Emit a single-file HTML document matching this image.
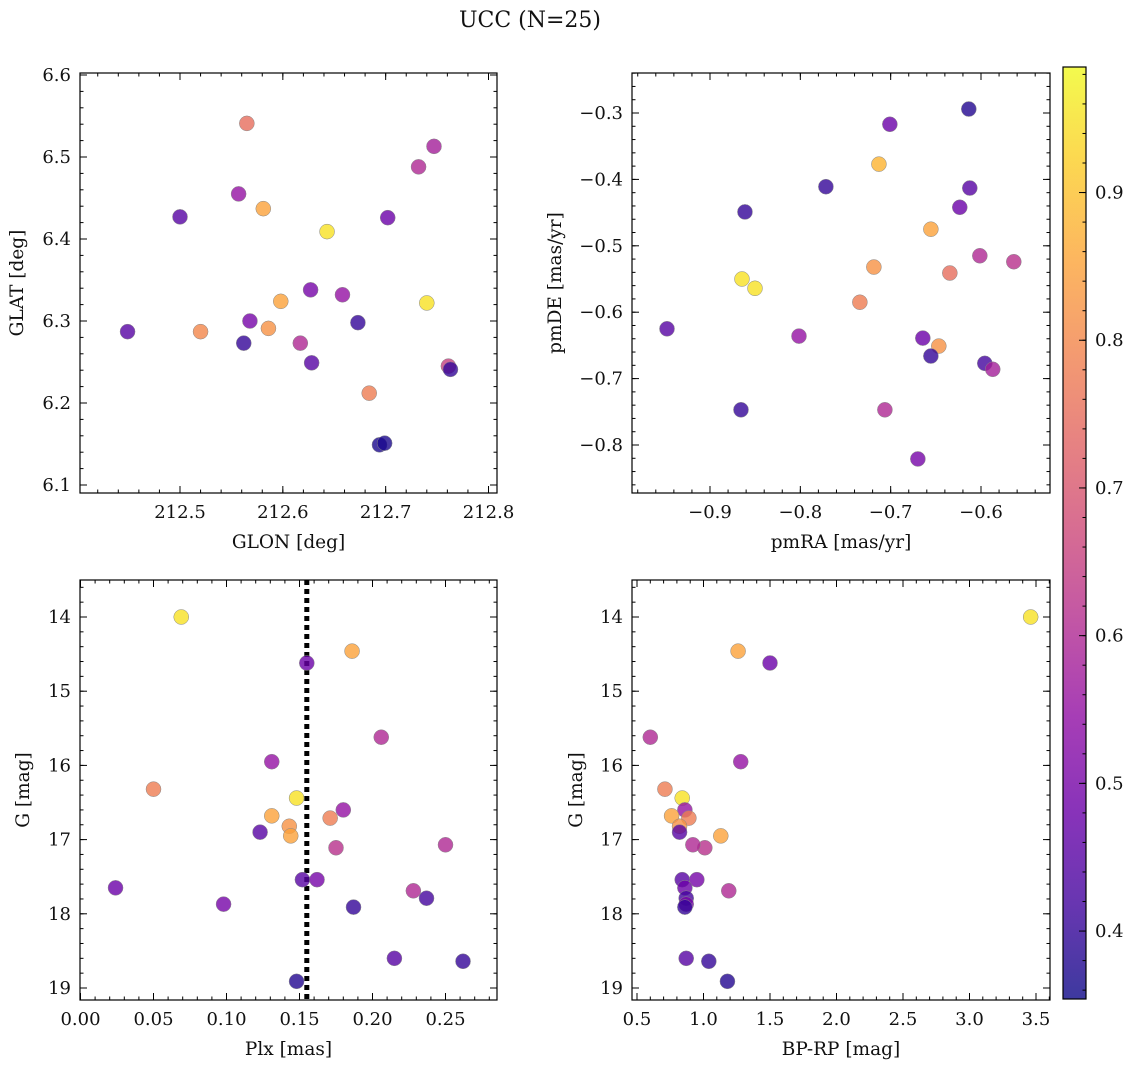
<!DOCTYPE html>
<html><head><meta charset="utf-8"><style>
body{margin:0;background:#fff}
svg text{font-family:"DejaVu Serif","Liberation Serif",serif;fill:#111}
</style></head><body>
<svg id="fig" width="1136" height="1067" xmlns="http://www.w3.org/2000/svg">
<defs><linearGradient id="cbg" x1="0" y1="1" x2="0" y2="0"></linearGradient></defs>
<text x="530" y="27" text-anchor="middle" font-size="22">UCC (N=25)</text>
</svg>
<script>
// Panel 1: GLON vs GLAT
const glon=[212.449,212.5,212.52,212.565,212.557,212.581,212.643,212.702,212.732,212.747,212.562,212.568,212.598,212.586,212.627,212.658,212.617,212.628,212.673,212.74,212.684,212.761,212.763,212.694,212.699];
const glat=[6.287,6.427,6.287,6.541,6.455,6.437,6.409,6.426,6.488,6.513,6.273,6.3,6.324,6.291,6.338,6.332,6.273,6.249,6.298,6.322,6.212,6.245,6.241,6.149,6.151];
const prob1=[0.45,0.45,0.8,0.75,0.55,0.85,0.95,0.48,0.6,0.58,0.4,0.5,0.85,0.82,0.5,0.55,0.6,0.45,0.4,0.95,0.78,0.65,0.4,0.37,0.37];
// Panel 2: pmRA vs pmDE
const pmra=[-0.6135,-0.7009,-0.713,-0.7717,-0.6124,-0.8613,-0.6235,-0.6555,-0.6013,-0.5637,-0.7186,-0.6345,-0.8646,-0.8502,-0.7341,-0.9476,-0.8015,-0.6644,-0.6467,-0.6555,-0.5958,-0.587,-0.8657,-0.7064,-0.6699];
const pmde=[-0.294,-0.317,-0.377,-0.411,-0.413,-0.449,-0.442,-0.475,-0.515,-0.524,-0.532,-0.541,-0.55,-0.564,-0.585,-0.625,-0.636,-0.639,-0.651,-0.666,-0.677,-0.686,-0.747,-0.747,-0.821];
const prob2=[0.38,0.48,0.88,0.4,0.45,0.4,0.48,0.85,0.6,0.62,0.82,0.75,0.95,0.95,0.78,0.45,0.55,0.48,0.82,0.4,0.42,0.58,0.4,0.6,0.5];
// Panel 3 & 4: Plx, BP-RP vs G
const gmag=[14.0,14.46,14.62,15.62,15.95,16.32,16.44,16.6,16.68,16.71,16.82,16.95,16.9,17.11,17.07,17.54,17.54,17.65,17.69,17.79,17.87,17.91,18.6,18.64,18.91];
const plx=[0.069,0.186,0.155,0.206,0.131,0.05,0.148,0.18,0.131,0.171,0.143,0.144,0.123,0.175,0.25,0.152,0.162,0.024,0.228,0.237,0.098,0.187,0.215,0.262,0.148];
const bprp=[3.46,1.26,1.5,0.6,1.28,0.71,0.84,0.86,0.76,0.89,0.82,1.13,0.82,1.01,0.92,0.84,0.95,0.86,1.19,0.87,0.87,0.86,0.87,1.04,1.18];
const prob34=[0.95,0.85,0.48,0.6,0.55,0.78,0.95,0.55,0.85,0.78,0.82,0.85,0.45,0.62,0.6,0.45,0.5,0.48,0.6,0.42,0.5,0.4,0.45,0.4,0.38];
const plxMedian=0.155;

const NS="http://www.w3.org/2000/svg";
const svg=document.getElementById('fig');
function el(t,a,p){const e=document.createElementNS(NS,t);for(const k in a)e.setAttribute(k,a[k]);(p||svg).appendChild(e);return e;}
const stops=[[0,'#0d0887'],[0.1,'#41049d'],[0.2,'#6a00a8'],[0.3,'#8f0da4'],[0.4,'#b12a90'],[0.5,'#cc4778'],[0.6,'#e16462'],[0.7,'#f2844b'],[0.8,'#fca636'],[0.9,'#fcce25'],[1,'#f0f921']];
function hx(h){return [1,3,5].map(i=>parseInt(h.substr(i,2),16));}
function plasma(t){t=Math.max(0,Math.min(1,t));for(let i=1;i<stops.length;i++){if(t<=stops[i][0]){const a=stops[i-1],b=stops[i];const f=(t-a[0])/(b[0]-a[0]);const c1=hx(a[1]),c2=hx(b[1]);return 'rgb('+c1.map((v,j)=>Math.round(v+(c2[j]-v)*f)).join(',')+')';}}return stops[10][1];}
const cmin=0.354,cmax=0.985;
function col(v){return plasma((v-cmin)/(cmax-cmin));}

function panel(cfg){
  const g=el('g',{});
  
  
  const X=v=>cfg.x0+(v-cfg.xa)*(cfg.x1-cfg.x0)/(cfg.xb-cfg.xa);
  const Y=v=>cfg.y0+(v-cfg.ya)*(cfg.y1-cfg.y0)/(cfg.yb-cfg.ya);
  const L=cfg.L,R=cfg.R,T=cfg.T,B=cfg.B;
  if(cfg.vline!==undefined){const ln=el('line',{x1:X(cfg.vline),x2:X(cfg.vline),y1:T,y2:B,stroke:'#000','stroke-width':5,'stroke-dasharray':'5,4'},g);}
  for(let i=0;i<cfg.xs.length;i++){
    const c=el('circle',{cx:X(cfg.xs[i]),cy:Y(cfg.ys[i]),r:7.5,fill:col(cfg.cs[i]),'fill-opacity':0.8,stroke:'#888','stroke-width':0.5},g);
    
    
  }
  const ax=el('rect',{x:L,y:T,width:R-L,height:B-T,fill:'none',stroke:'#000','stroke-width':1.2},g);
  
  function tick(x1,y1,x2,y2){el('line',{x1,y1,x2,y2,stroke:'#000','stroke-width':1},g);}
  const eps=1e-9;
  for(let v=Math.ceil(cfg.xmin/cfg.xm-eps)*cfg.xm;v<=cfg.xmax+eps;v+=cfg.xm){const p=X(v);if(p<L-0.5||p>R+0.5)continue;tick(p,B,p,B-3.5);tick(p,T,p,T+3.5);}
  for(let v=Math.ceil(cfg.ymin/cfg.ym-eps)*cfg.ym;v<=cfg.ymax+eps;v+=cfg.ym){const p=Y(v);if(p<T-0.5||p>B+0.5)continue;tick(L,p,L+3.5,p);tick(R,p,R-3.5,p);}
  cfg.xt.forEach(v=>{const p=X(v);tick(p,B,p,B-7);tick(p,T,p,T+7);const t=el('text',{x:p,y:B+25,'text-anchor':'middle','font-size':18},g);t.textContent=cfg.xf(v);});
  cfg.yt.forEach(v=>{const p=Y(v);tick(L,p,L+7,p);tick(R,p,R-7,p);const t=el('text',{x:L-9,y:p+6,'text-anchor':'end','font-size':18},g);t.textContent=cfg.yf(v);});
  const xl=el('text',{x:(L+R)/2,y:B+55,'text-anchor':'middle','font-size':18.5},g);xl.textContent=cfg.xlabel;
  const yl=el('text',{x:0,y:0,'text-anchor':'middle','font-size':18.5,transform:`translate(${cfg.ylx},${(T+B)/2}) rotate(-90)`},g);yl.textContent=cfg.ylabel;
}
const mn=(a,b)=>'\u2212'+Math.abs(a).toFixed(b);
panel({name:'glon-glat-panel',L:80,R:497,T:73,B:493,x0:180,x1:488.5,xa:212.5,xb:212.8,y0:75,y1:485,ya:6.6,yb:6.1,
 xmin:212.38,xmax:212.82,ymin:6.08,ymax:6.62,xm:0.02,ym:0.02,xt:[212.5,212.6,212.7,212.8],yt:[6.1,6.2,6.3,6.4,6.5,6.6],
 xf:v=>v.toFixed(1),yf:v=>v.toFixed(1),xs:glon,ys:glat,cs:prob1,xlabel:'GLON [deg]',ylabel:'GLAT [deg]',ylx:23});
panel({name:'pm-panel',L:632,R:1050,T:73,B:493,x0:710,x1:981,xa:-0.9,xb:-0.6,y0:113,y1:445,ya:-0.3,yb:-0.8,
 xmin:-1,xmax:-0.5,ymin:-0.9,ymax:-0.2,xm:0.02,ym:0.02,xt:[-0.9,-0.8,-0.7,-0.6],yt:[-0.3,-0.4,-0.5,-0.6,-0.7,-0.8],
 xf:v=>mn(v,1),yf:v=>mn(v,1),xs:pmra,ys:pmde,cs:prob2,xlabel:'pmRA [mas/yr]',ylabel:'pmDE [mas/yr]',ylx:561});
panel({name:'plx-g-panel',L:80,R:497,T:580,B:1000,x0:80.5,x1:445.5,xa:0,xb:0.25,y0:617,y1:988,ya:14,yb:19,
 xmin:0,xmax:0.3,ymin:13.4,ymax:19.2,xm:0.01,ym:0.2,xt:[0,0.05,0.1,0.15,0.2,0.25],yt:[14,15,16,17,18,19],
 xf:v=>v.toFixed(2),yf:v=>String(v),xs:plx,ys:gmag,cs:prob34,xlabel:'Plx [mas]',ylabel:'G [mag]',ylx:29,vline:plxMedian});
panel({name:'cmd-panel',L:632,R:1050,T:580,B:1000,x0:637,x1:1036,xa:0.5,xb:3.5,y0:617,y1:988,ya:14,yb:19,
 xmin:0.4,xmax:3.7,ymin:13.4,ymax:19.2,xm:0.1,ym:0.2,xt:[0.5,1,1.5,2,2.5,3,3.5],yt:[14,15,16,17,18,19],
 xf:v=>v.toFixed(1),yf:v=>String(v),xs:bprp,ys:gmag,cs:prob34,xlabel:'BP-RP [mag]',ylabel:'G [mag]',ylx:582});
// colorbar
const grad=document.getElementById('cbg');
for(let i=0;i<=20;i++){el('stop',{offset:(i/20),'stop-color':plasma(i/20)},grad);}
const cb=el('g',{});
const cy0=999,cy1=67;const CY=v=>cy0-(v-cmin)/(cmax-cmin)*(cy0-cy1);
el('rect',{x:1063,y:cy1,width:23,height:cy0-cy1,fill:'url(#cbg)','fill-opacity':0.8},cb);
el('rect',{x:1063,y:cy1,width:23,height:cy0-cy1,fill:'none',stroke:'#000','stroke-width':1.2},cb);
for(let v=0.36;v<=0.985;v+=0.02){const p=CY(v);el('line',{x1:1086,x2:1082.5,y1:p,y2:p,stroke:'#000'},cb);}
[0.4,0.5,0.6,0.7,0.8,0.9].forEach(v=>{const p=CY(v);el('line',{x1:1086,x2:1079,y1:p,y2:p,stroke:'#000'},cb);const t=el('text',{x:1095,y:p+6,'font-size':18},cb);t.textContent=v.toFixed(1);});
</script>
</body></html>
